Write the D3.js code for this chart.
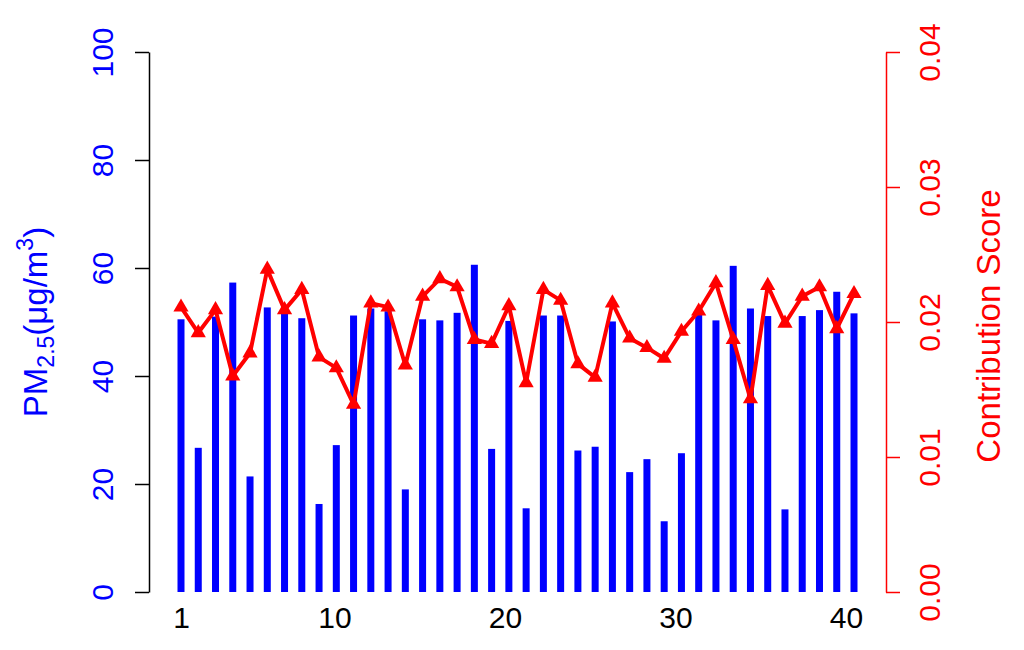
<!DOCTYPE html>
<html>
<head>
<meta charset="utf-8">
<script src="https://cdn.jsdelivr.net/npm/d3@7"></script>
<style>
  body { margin: 0; background: #fff; }
  text { font-family: "Liberation Sans", Arial, Helvetica, sans-serif; }
</style>
</head>
<body>
<div id="chart"></div>
<script>
var svgWidth = 1024;
var svgHeight = 650;

// sample index 1..40
var samples = d3.range(1, 41);

// PM2.5 concentration (ug/m3)
var pm25 = [50.5, 26.7, 51.0, 57.3, 21.4, 52.7, 51.6, 50.7, 16.3, 27.2,
            51.2, 52.5, 52.0, 19.0, 50.5, 50.3, 51.7, 60.6, 26.5, 50.2,
            15.5, 51.2, 51.2, 26.2, 26.9, 50.1, 22.2, 24.6, 13.1, 25.7,
            51.5, 50.3, 60.4, 52.5, 51.1, 15.3, 51.1, 52.2, 55.6, 51.6];

// contribution score
var scores = [0.0211, 0.0192, 0.0209, 0.0160, 0.0177, 0.0239, 0.0209, 0.0224, 0.0174, 0.0166,
              0.0139, 0.0214, 0.0211, 0.0168, 0.0219, 0.0232, 0.0226, 0.0187, 0.0184, 0.0212,
              0.0155, 0.0224, 0.0216, 0.0169, 0.0159, 0.0214, 0.0188, 0.0181, 0.0173, 0.0193,
              0.0208, 0.0229, 0.0187, 0.0143, 0.0227, 0.0199, 0.0219, 0.0226, 0.0195, 0.0221];

var xTicks = [1, 10, 20, 30, 40];
var leftTicks = [0, 20, 40, 60, 80, 100];
var rightTicks = [0, 0.01, 0.02, 0.03, 0.04];

var plot = { left: 149, right: 886, top: 52, bottom: 592 };

var svg = d3.select("#chart")
  .append("svg")
  .attr("width", svgWidth)
  .attr("height", svgHeight);

// scales (the index labels sit on a slightly narrower scale than the bars, as in the original)
var xScale = d3.scaleLinear().domain([1, 40]).range([181, 854]);
var xLabelScale = d3.scaleLinear().domain([1, 40]).range([181, 846]);
var yLeft = d3.scaleLinear().domain([0, 100]).range([plot.bottom, plot.top]);
var yRight = d3.scaleLinear().domain([0, 0.04]).range([plot.bottom, plot.top]);

// bars
svg.append("g").selectAll("rect")
  .data(samples)
  .enter()
  .append("rect")
  .attr("x", d => xScale(d) - 3.5)
  .attr("width", 7)
  .attr("y", (d, i) => yLeft(pm25[i]))
  .attr("height", (d, i) => yLeft(0) - yLeft(pm25[i]))
  .attr("fill", "#0000ff");

// score line
var line = d3.line()
  .x((d, i) => xScale(samples[i]))
  .y(d => yRight(d));

svg.append("path")
  .datum(scores)
  .attr("d", line)
  .attr("fill", "none")
  .attr("stroke", "#ff0000")
  .attr("stroke-width", 4)
  .attr("stroke-linejoin", "round");

var tri = d3.symbol().type(d3.symbolTriangle).size(100);
svg.append("g").selectAll("path")
  .data(scores)
  .enter()
  .append("path")
  .attr("d", tri)
  .attr("transform", (d, i) => `translate(${xScale(samples[i])},${yRight(d)})`)
  .attr("fill", "#ff0000");

// left axis
var leftAxis = svg.append("g")
  .attr("transform", `translate(${plot.left},0)`)
  .call(d3.axisLeft(yLeft).tickValues(leftTicks).tickSize(14).tickSizeOuter(0));
leftAxis.selectAll("path, line").attr("stroke", "#000").attr("stroke-width", 1.5);
leftAxis.selectAll("text")
  .attr("x", null).attr("dy", null)
  .attr("transform", "translate(-36,0) rotate(-90)")
  .attr("text-anchor", "middle")
  .attr("fill", "#0000ff")
  .style("font-size", "30px");

// right axis
var rightAxis = svg.append("g")
  .attr("transform", `translate(${plot.right},0)`)
  .call(d3.axisRight(yRight).tickValues(rightTicks).tickFormat(d3.format(".2f")).tickSize(14).tickSizeOuter(0));
rightAxis.selectAll("path, line").attr("stroke", "#ff0000").attr("stroke-width", 1.5);
rightAxis.selectAll("text")
  .attr("x", null).attr("dy", null)
  .attr("transform", "translate(54,0) rotate(-90)")
  .attr("text-anchor", "middle")
  .attr("fill", "#ff0000")
  .style("font-size", "30px");

// bottom axis, labels only
var bottomAxis = svg.append("g")
  .attr("transform", `translate(0,${plot.bottom})`)
  .call(d3.axisBottom(xLabelScale).tickValues(xTicks).tickFormat(d3.format("d")).tickSize(0));
bottomAxis.select(".domain").remove();
bottomAxis.selectAll("text")
  .attr("y", 36).attr("dy", null)
  .attr("fill", "#000")
  .style("font-size", "30px");

// axis titles
var yTitle = svg.append("text")
  .attr("transform", "translate(47,322) rotate(-90)")
  .attr("text-anchor", "middle")
  .attr("fill", "#0000ff")
  .style("font-size", "33px");
yTitle.append("tspan").text("PM");
yTitle.append("tspan").attr("dy", 7).style("font-size", "23px").text("2.5");
yTitle.append("tspan").attr("dy", -7).text("(μg/m");
yTitle.append("tspan").attr("dy", -14).style("font-size", "23px").text("3");
yTitle.append("tspan").attr("dy", 14).text(")");

svg.append("text")
  .attr("transform", "translate(1000,326) rotate(-90)")
  .attr("text-anchor", "middle")
  .attr("fill", "#ff0000")
  .style("font-size", "33px")
  .text("Contribution Score");
</script>
</body>
</html>
